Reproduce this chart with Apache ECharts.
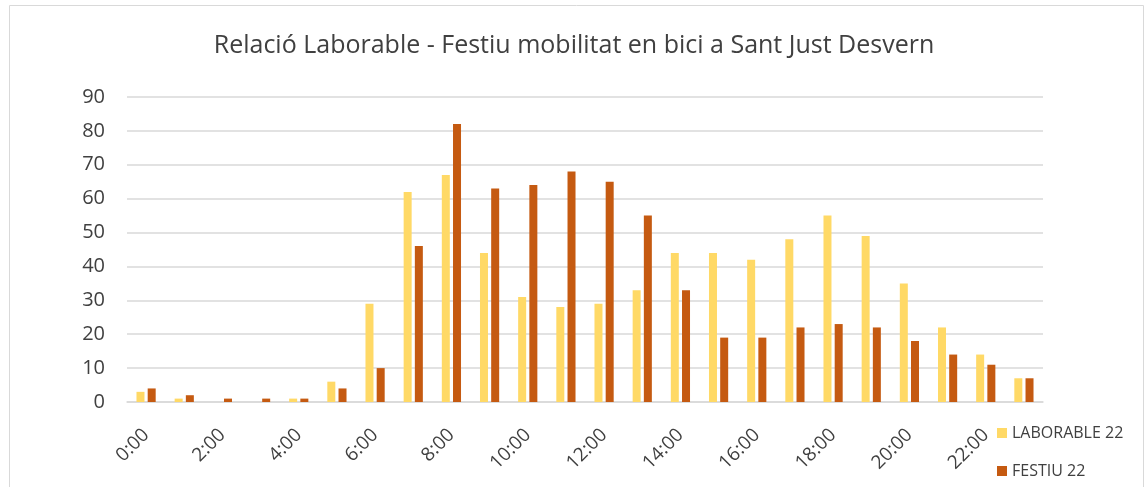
<!DOCTYPE html>
<html>
<head>
<meta charset="utf-8">
<script src="https://cdn.jsdelivr.net/npm/echarts@6/dist/echarts.min.js"></script>
<style>
  html, body { margin: 0; padding: 0; background: #fff; }
  #chart { width: 1148px; height: 487px; }
</style>
</head>
<body>
<div id="chart"></div>
<script>
// hores del dia
var hours = ['0:00', '1:00', '2:00', '3:00', '4:00', '5:00', '6:00', '7:00', '8:00', '9:00', '10:00', '11:00',
             '12:00', '13:00', '14:00', '15:00', '16:00', '17:00', '18:00', '19:00', '20:00', '21:00', '22:00', '23:00'];
// dies laborables
var laborable = [3, 1, 0, 0, 1, 6, 29, 62, 67, 44, 31, 28, 29, 33, 44, 44, 42, 48, 55, 49, 35, 22, 14, 7];
// dies festius
var festiu = [4, 2, 1, 1, 1, 4, 10, 46, 82, 63, 64, 68, 65, 55, 33, 19, 19, 22, 23, 22, 18, 14, 11, 7];

var chart = echarts.init(document.getElementById('chart'));
var option = {
    animation: false,
    textStyle: { fontFamily: 'Open Sans' },
    graphic: [{
        type: 'rect',
        shape: { x: 9.5, y: 5.5, width: 1134, height: 490 },
        style: { fill: 'none', stroke: '#d9d9d9', lineWidth: 1 },
        silent: true
    }],
    title: {
        text: 'Relació Laborable - Festiu mobilitat en bici a Sant Just Desvern',
        left: 'center',
        top: 28,
        textStyle: { fontSize: 25, fontWeight: 'normal', color: '#404040', fontFamily: 'Open Sans' }
    },
    legend: {
        orient: 'vertical',
        left: 992,
        top: 420,
        itemWidth: 10,
        itemHeight: 10,
        itemGap: 22,
        icon: 'rect',
        textStyle: { fontSize: 16, color: '#404040' },
        data: ['LABORABLE 22', 'FESTIU 22']
    },
    grid: { left: 127, right: 105, top: 97, bottom: 85 },
    xAxis: {
        type: 'category',
        data: hours,
        axisLine: { lineStyle: { color: '#d9d9d9', width: 1.5 } },
        axisTick: { show: false },
        axisLabel: { interval: 1, rotate: 45, fontSize: 19, color: '#404040', margin: 30 }
    },
    yAxis: {
        type: 'value',
        min: 0,
        max: 90,
        interval: 10,
        axisLine: { show: false },
        axisTick: { show: false },
        axisLabel: { fontSize: 20, color: '#404040', margin: 22 },
        splitLine: { lineStyle: { color: '#d9d9d9', width: 1.5 } }
    },
    series: [
        {
            name: 'LABORABLE 22',
            type: 'bar',
            data: laborable,
            barWidth: 8,
            barGap: '40%',
            itemStyle: { color: '#FFD966' }
        },
        {
            name: 'FESTIU 22',
            type: 'bar',
            data: festiu,
            barWidth: 8,
            barGap: '40%',
            itemStyle: { color: '#C55A11' }
        }
    ]
};
chart.setOption(option);
</script>
</body>
</html>
